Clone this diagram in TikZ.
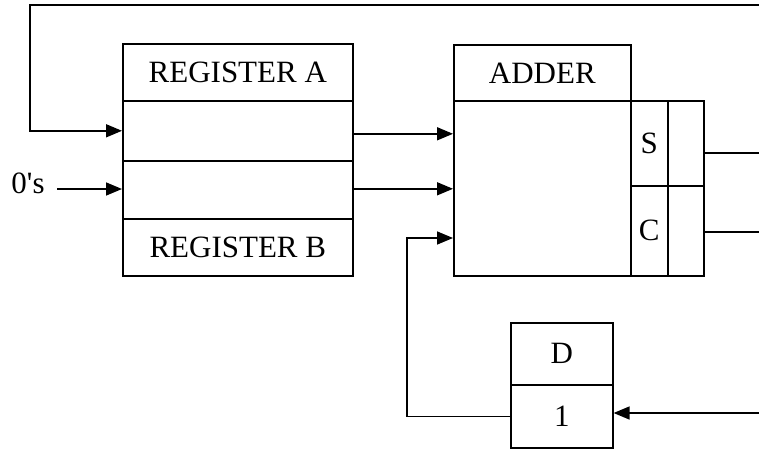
\documentclass[tikz,border=0pt]{standalone}
\usepackage{fontspec}
\setmainfont{Liberation Serif}
\usetikzlibrary{arrows.meta}
\begin{document}
\begin{tikzpicture}[x=0.5pt,y=-0.5pt,
  every node/.style={font=\fontsize{15.5}{18}\selectfont},
  cell/.style={draw,line width=0.8pt,inner sep=0pt,anchor=north west},
  wire/.style={line width=0.8pt},
  arr/.style={wire,-{Triangle[length=8pt,width=6.5pt]}}]
\useasboundingbox (0,0) rectangle (759,449);
% register
\node[cell,minimum width=115pt,minimum height=28.5pt] (rega) at (122,43) {REGISTER A};
\node[cell,minimum width=115pt,minimum height=30pt] (cella) at (122,100) {};
\node[cell,minimum width=115pt,minimum height=29pt] (cellb) at (122,160) {};
\node[cell,minimum width=115pt,minimum height=28.5pt] (regb) at (122,218) {REGISTER B};
% adder
\node[cell,minimum width=88.5pt,minimum height=28pt] (addh) at (453,44) {ADDER};
\node[cell,minimum width=88.5pt,minimum height=87.5pt] (body) at (453,100) {};
\node[cell,minimum width=18.5pt,minimum height=42.5pt] (s) at (630,100) {S};
\node[cell,minimum width=18.5pt,minimum height=45pt] (c) at (630,185) {C};
\node[cell,minimum width=18pt,minimum height=42.5pt] (s2) at (667,100) {};
\node[cell,minimum width=18pt,minimum height=45pt] (c2) at (667,185) {};
% D
\node[cell,minimum width=51pt,minimum height=31pt] (d) at (510,322) {D};
\node[cell,minimum width=51pt,minimum height=31.5pt] (one) at (510,384) {1};
% labels and coordinates
\node[anchor=base,inner sep=0pt] (zeros) at (28,193) {0\textquotesingle s};
\coordinate (zin) at (57,189);
\coordinate (top) at (759,5);
\coordinate (tl) at (30,5);
\coordinate (sout) at (759,153);
\coordinate (cout) at (759,232);
\coordinate (din) at (759,413);
\coordinate (j) at (407,238);
% wires
\draw[arr] (top) -- (tl) |- (cella.west);
\draw[arr] (zin) -- (zin -| cellb.west);
\draw[arr] ([yshift=-1.5pt]cella.east) -- ([yshift=-1.5pt]cella.east -| body.west);
\draw[arr] ([yshift=0.5pt]cellb.east) -- ([yshift=0.5pt]cellb.east -| body.west);
\draw[arr] (one.west) -| (j) -- (j -| body.west);
\draw[wire] (sout -| s2.east) -- (sout);
\draw[wire] (cout -| c2.east) -- (cout);
\draw[arr] (din) -- (din -| one.east);
\end{tikzpicture}
\end{document}
